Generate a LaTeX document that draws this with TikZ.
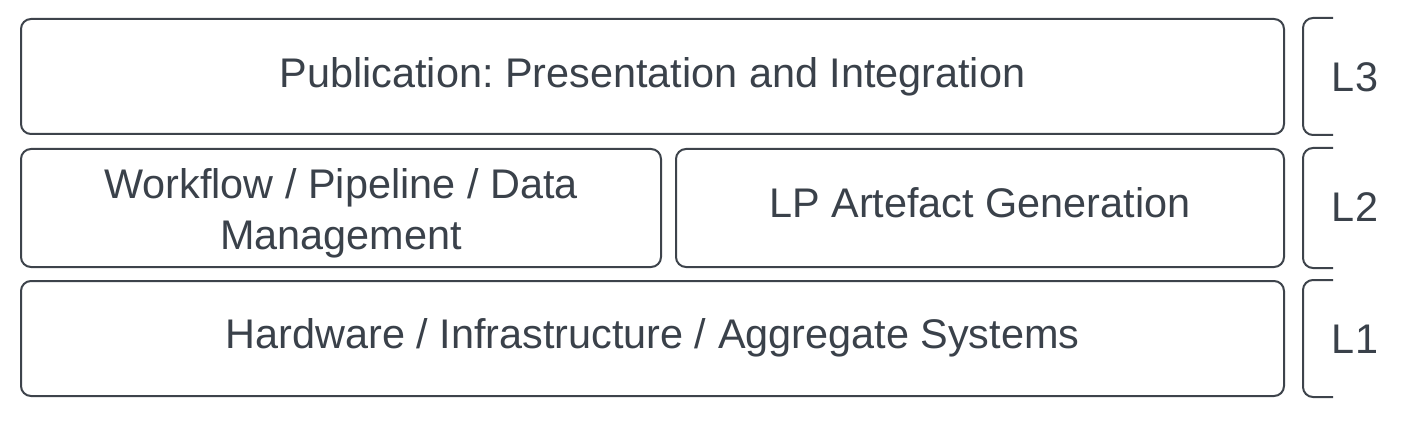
\documentclass[tikz,border=0pt]{standalone}
\usepackage{fontspec}
\setmainfont{Liberation Sans}
\usetikzlibrary{calc}
\definecolor{edge}{HTML}{3D434B}
\definecolor{ink}{HTML}{3A414A}
\tikzset{
  layerbox/.style={draw=edge, line width=2pt, rounded corners=10pt, fill=white,
    inner sep=0pt},
  boxtext/.style={text=ink, align=center, inner sep=0pt,
    font=\fontsize{41.4}{51}\selectfont},
  bracket/.style={draw=edge, line width=2pt, rounded corners=10pt}
}
\begin{document}
\frenchspacing
\begin{tikzpicture}[x=1pt,y=-1pt]
\useasboundingbox (0,0) rectangle (1408,422);
\node[layerbox, minimum width=1263pt, minimum height=115pt] (pub) at (652.5,76.5) {};
\node[layerbox, minimum width=640pt, minimum height=118pt] (wf) at (341,208) {};
\node[layerbox, minimum width=608pt, minimum height=118pt] (lp) at (980,208) {};
\node[layerbox, minimum width=1263pt, minimum height=115pt] (hw) at (652.5,338.5) {};
\node[boxtext] (pubt) at (pub.center) {Publication: Presentation and Integration};
\node[boxtext] (wft) at ($(wf.center)+(0,5)$) {Workflow / Pipeline / Data\\Management};
\node[boxtext] (lpt) at ($(lp.center)+(0,-5)$) {LP Artefact Generation};
\node[boxtext] (hwt) at ($(hw.center)+(0,-1)$) {Hardware / Infrastructure / Aggregate Systems};
% brackets
\foreach \b in {pub,lp,hw}{
  \draw[bracket] ($(\b.north east)+(48,0)$) -- ($(\b.north east)+(18,0)$) -- ($(\b.south east)+(18,0)$) -- ($(\b.south east)+(48,0)$);
}
\node[boxtext] (l3) at (1355,77) {L3};
\node[boxtext] (l2) at (1355,207) {L2};
\node[boxtext] (l1) at (1355,339) {L1};
\end{tikzpicture}
\end{document}
